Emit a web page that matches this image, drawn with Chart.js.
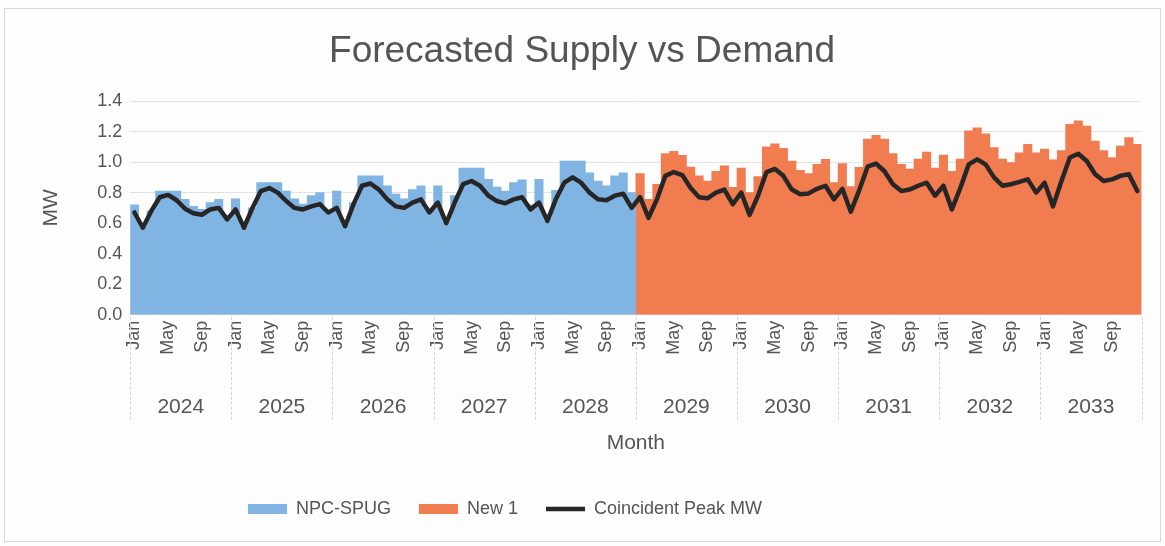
<!DOCTYPE html>
<html lang="en">
<head>
    <meta charset="UTF-8">
    <title>Forecasted Supply vs Demand</title>
    <script src="https://cdn.jsdelivr.net/npm/chart.js"></script>
    <style>
        html, body { margin: 0; padding: 0; background: #fdfdfd; }
    </style>
</head>
<body>
    <canvas id="supplyChart" width="1165" height="546"></canvas>

    <script>
        // Axis labels
        const years = ['2024', '2025', '2026', '2027', '2028', '2029', '2030', '2031', '2032', '2033'];
        const monthNames = ['Jan', 'Feb', 'Mar', 'Apr', 'May', 'Jun', 'Jul', 'Aug', 'Sep', 'Oct', 'Nov', 'Dec'];
        const shownMonths = ['Jan', 'May', 'Sep'];

        // Supply from NPC-SPUG, Jan 2024 - Dec 2028 (MW)
        const npcSpug = [
            0.72, 0.58, 0.68, 0.81, 0.81, 0.81, 0.756, 0.71, 0.69, 0.735, 0.756, 0.64,
            0.76, 0.58, 0.70, 0.865, 0.865, 0.865, 0.81, 0.76, 0.725, 0.78, 0.80, 0.68,
            0.81, 0.59, 0.735, 0.91, 0.91, 0.91, 0.845, 0.79, 0.76, 0.82, 0.845, 0.69,
            0.845, 0.61, 0.78, 0.96, 0.96, 0.96, 0.887, 0.837, 0.81, 0.865, 0.883, 0.72,
            0.887, 0.63, 0.815, 1.007, 1.007, 1.007, 0.93, 0.876, 0.844, 0.91, 0.93, 0.80
        ];

        // Supply from New 1, Jan 2029 - Dec 2033 (MW)
        const new1 = [
            0.925, 0.756, 0.855, 1.055, 1.07, 1.045, 0.968, 0.91, 0.876, 0.94, 0.975, 0.835,
            0.96, 0.80, 0.905, 1.10, 1.12, 1.09, 1.007, 0.946, 0.925, 0.985, 1.018, 0.865,
            0.99, 0.84, 0.965, 1.15, 1.175, 1.15, 1.055, 0.985, 0.955, 1.02, 1.066, 0.96,
            1.046, 0.94, 1.02, 1.205, 1.225, 1.185, 1.095, 1.02, 0.996, 1.06, 1.116, 1.06,
            1.085, 1.015, 1.075, 1.247, 1.27, 1.236, 1.138, 1.075, 1.03, 1.105, 1.16, 1.116
        ];

        // Coincident peak demand, Jan 2024 - Dec 2033 (MW)
        const peakMW = [
            0.67, 0.57, 0.68, 0.77, 0.785, 0.75, 0.695, 0.665, 0.655, 0.69, 0.70, 0.625,
            0.69, 0.57, 0.70, 0.81, 0.83, 0.80, 0.745, 0.70, 0.69, 0.71, 0.725, 0.67,
            0.70, 0.58, 0.725, 0.845, 0.86, 0.82, 0.756, 0.71, 0.70, 0.735, 0.756, 0.67,
            0.735, 0.60, 0.735, 0.855, 0.876, 0.845, 0.78, 0.745, 0.73, 0.756, 0.77, 0.69,
            0.735, 0.615, 0.756, 0.865, 0.90, 0.865, 0.80, 0.756, 0.75, 0.78, 0.793, 0.70,
            0.77, 0.635, 0.756, 0.91, 0.935, 0.915, 0.83, 0.77, 0.763, 0.80, 0.82, 0.724,
            0.80, 0.654, 0.78, 0.935, 0.955, 0.91, 0.82, 0.79, 0.795, 0.825, 0.845, 0.756,
            0.825, 0.675, 0.815, 0.97, 0.99, 0.94, 0.855, 0.81, 0.82, 0.845, 0.865, 0.78,
            0.845, 0.69, 0.83, 0.985, 1.018, 0.985, 0.90, 0.845, 0.855, 0.87, 0.887, 0.80,
            0.865, 0.71, 0.876, 1.03, 1.055, 1.007, 0.92, 0.876, 0.887, 0.91, 0.92, 0.81
        ];

        // One category per month
        const monthLabels = [];
        years.forEach(y => monthNames.forEach(m => monthLabels.push(m + ' ' + y)));

        // Blue only for the first five years, orange for the rest
        const blanks = new Array(60).fill(null);
        const npcData = npcSpug.concat(blanks);
        const new1Data = blanks.concat(new1);

        const textColor = '#555555';
        const fontFamily = '"Liberation Sans", Arial, sans-serif';
        Chart.defaults.font.family = fontFamily;
        Chart.defaults.color = textColor;

        // Background, frame, year row under the month labels and the dashed separators
        const yearRow = {
            id: 'yearRow',
            beforeDraw(chart) {
                const ctx = chart.ctx;
                ctx.save();
                ctx.fillStyle = '#fdfdfd';
                ctx.fillRect(0, 0, chart.width, chart.height);
                ctx.strokeStyle = '#d8d8d8';
                ctx.lineWidth = 1;
                ctx.strokeRect(4.5, 8.5, chart.width - 9, chart.height - 13);
                ctx.restore();
            },
            afterLayout(chart) {
                // the legend in the original sits left of centre
                chart.legend.left = 0;
                chart.legend.right = 1010;
            },
            afterDraw(chart) {
                const ctx = chart.ctx;
                const x = chart.scales.x;
                const bottom = chart.chartArea.bottom;
                const step = x.getPixelForValue(1) - x.getPixelForValue(0);
                ctx.save();
                ctx.strokeStyle = '#d4d4d4';
                ctx.lineWidth = 1;
                ctx.setLineDash([3, 2]);
                for (let k = 0; k <= years.length; k++) {
                    const px = Math.round(x.getPixelForValue(k * 12) - step / 2) + 0.5;
                    ctx.beginPath();
                    ctx.moveTo(px, bottom + 2);
                    ctx.lineTo(px, bottom + 106);
                    ctx.stroke();
                }
                ctx.setLineDash([]);
                ctx.fillStyle = textColor;
                ctx.font = '21px ' + fontFamily;
                ctx.textAlign = 'center';
                ctx.textBaseline = 'middle';
                years.forEach((yr, k) => {
                    const cx = (x.getPixelForValue(k * 12) + x.getPixelForValue(k * 12 + 11)) / 2;
                    ctx.fillText(yr, cx, bottom + 92);
                });
                ctx.restore();
            }
        };

        const ctx = document.getElementById('supplyChart').getContext('2d');
        new Chart(ctx, {
            data: {
                labels: monthLabels,
                datasets: [
                    {
                        type: 'bar',
                        label: 'NPC-SPUG',
                        data: npcData,
                        backgroundColor: '#80b4e3',
                        borderWidth: 0,
                        barPercentage: 1,
                        categoryPercentage: 1,
                        pointStyle: 'rect',
                        order: 2
                    },
                    {
                        type: 'bar',
                        label: 'New 1',
                        data: new1Data,
                        backgroundColor: '#f07c4f',
                        borderWidth: 0,
                        barPercentage: 1,
                        categoryPercentage: 1,
                        pointStyle: 'rect',
                        order: 2
                    },
                    {
                        type: 'line',
                        label: 'Coincident Peak MW',
                        data: peakMW,
                        borderColor: '#262626',
                        backgroundColor: '#262626',
                        borderWidth: 4.5,
                        borderCapStyle: 'round',
                        borderJoinStyle: 'round',
                        pointRadius: 0,
                        pointStyle: 'line',
                        tension: 0,
                        order: 1
                    }
                ]
            },
            options: {
                responsive: false,
                animation: false,
                layout: {
                    padding: { top: 10, left: 22, right: 23, bottom: 18 }
                },
                plugins: {
                    title: {
                        display: true,
                        text: 'Forecasted Supply vs Demand',
                        color: textColor,
                        font: { size: 37, weight: 'normal' },
                        padding: { top: 20, bottom: 26.6 }
                    },
                    legend: {
                        position: 'bottom',
                        labels: {
                            usePointStyle: true,
                            pointStyleWidth: 39,
                            boxHeight: 10,
                            padding: 28,
                            color: textColor,
                            font: { size: 18 },
                            sort: (a, b) => a.datasetIndex - b.datasetIndex
                        }
                    },
                    tooltip: { enabled: false }
                },
                scales: {
                    x: {
                        stacked: true,
                        offset: true,
                        grid: { display: false, drawTicks: false },
                        border: { display: true, color: '#d9d9d9' },
                        ticks: {
                            autoSkip: false,
                            minRotation: 90,
                            maxRotation: 90,
                            padding: 6,
                            color: textColor,
                            font: { size: 18 },
                            callback: function (value, index) {
                                const m = monthNames[index % 12];
                                return shownMonths.includes(m) ? m : '';
                            }
                        },
                        title: {
                            display: true,
                            text: 'Month',
                            color: textColor,
                            font: { size: 21 },
                            padding: { top: 70, bottom: 16 }
                        }
                    },
                    y: {
                        min: 0,
                        max: 1.4,
                        grid: { color: '#e2e2e2', drawTicks: false },
                        border: { display: false },
                        ticks: {
                            stepSize: 0.2,
                            padding: 8,
                            color: textColor,
                            font: { size: 18 },
                            callback: v => v.toFixed(1)
                        },
                        title: {
                            display: true,
                            text: 'MW',
                            color: textColor,
                            font: { size: 21 },
                            padding: { top: 17, bottom: 25 }
                        }
                    }
                }
            },
            plugins: [yearRow]
        });
    </script>
</body>
</html>
